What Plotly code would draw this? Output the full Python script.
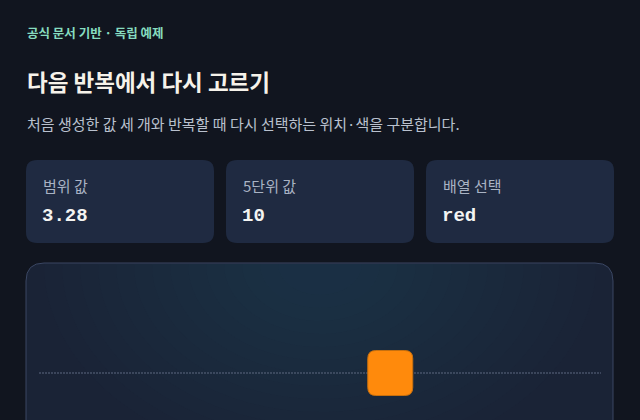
import plotly.graph_objects as go

# ---- data ----
eyebrow = "공식 문서 기반 · 독립 예제"
title = "다음 반복에서 다시 고르기"
subtitle = "처음 생성한 값 세 개와 반복할 때 다시 선택하는 위치·색을 구분합니다."
card_labels = ["범위 값", "5단위 값", "배열 선택"]
card_values = ["3.28", "10", "red"]
marker_x = [10]
marker_y = [0]
x_range = [0, 16]

W, H = 640, 420
BG = "#11151f"
CARD = "#1f2a41"
KR = "Noto Sans CJK KR, Noto Sans, sans-serif"
MONO = "Liberation Mono, DejaVu Sans Mono, monospace"


def px(x):
    return x / W


def py(y):
    return 1 - y / H


def rrect(x0, y0, x1, y1, r):
    rx, ry = r / W, r / H
    X0, X1 = px(x0), px(x1)
    Y0, Y1 = py(y0), py(y1)  # Y0 top (larger), Y1 bottom
    return (f"M {X0+rx},{Y0} L {X1-rx},{Y0} Q {X1},{Y0} {X1},{Y0-ry} "
            f"L {X1},{Y1+ry} Q {X1},{Y1} {X1-rx},{Y1} L {X0+rx},{Y1} "
            f"Q {X0},{Y1} {X0},{Y1+ry} L {X0},{Y0-ry} Q {X0},{Y0} {X0+rx},{Y0} Z")


def half_ellipse(cx, cy, rx, ry):
    k = 0.5523
    L, R, B = px(cx - rx), px(cx + rx), py(cy + ry)
    C, T = px(cx), py(cy)
    kx, ky = k * rx / W, k * ry / H
    return (f"M {L},{T} C {L},{T-ky} {C-kx},{B} {C},{B} "
            f"C {C+kx},{B} {R},{T-ky} {R},{T} Z")


shapes = []
annotations = []

# cards
card_x = [26, 226, 426]
for i, (lab, val) in enumerate(zip(card_labels, card_values)):
    x0 = card_x[i]
    shapes.append(dict(type="path", xref="paper", yref="paper", path=rrect(x0, 160, x0 + 188, 243, 11),
                       fillcolor=CARD, line=dict(width=0), layer="below"))
    annotations.append(dict(x=px(x0 + 15), y=py(185), xref="paper", yref="paper", text=lab,
                            showarrow=False, xanchor="left", yanchor="middle",
                            font=dict(family=KR, size=15, color="#a9b3c4")))
    annotations.append(dict(x=px(x0 + 14), y=py(216), xref="paper", yref="paper", text=f"<b>{val}</b>",
                            showarrow=False, xanchor="left", yanchor="middle",
                            font=dict(family=MONO, size=19, color="#f4f4f2")))

# panel
shapes.append(dict(type="path", xref="paper", yref="paper", path=rrect(26, 263, 613, 460, 18),
                   fillcolor="#1a2336", line=dict(color="#3a4662", width=1), layer="below"))
# soft radial glow from the top centre, kept inside the panel
for k in range(14):
    rx = 276 - k * 18
    ry = 200 - k * 13
    shapes.append(dict(type="path", xref="paper", yref="paper", path=half_ellipse(320, 264, rx, ry),
                       fillcolor="#2b3c63", opacity=0.045, line=dict(width=0), layer="below"))

# dotted guide line
shapes.append(dict(type="line", xref="x domain", yref="y", x0=0, x1=1, y0=0, y1=0,
                   line=dict(color="#5d6880", width=1, dash="2px,1px"), layer="below"))

# rounded square marker anchored at data position
for xv, yv in zip(marker_x, marker_y):
    s, r = 22.5, 8
    path = (f"M {-s+r},{-s} L {s-r},{-s} Q {s},{-s} {s},{-s+r} L {s},{s-r} Q {s},{s} {s-r},{s} "
            f"L {-s+r},{s} Q {-s},{s} {-s},{s-r} L {-s},{-s+r} Q {-s},{-s} {-s+r},{-s} Z")
    shapes.append(dict(type="path", xref="x", yref="y", xsizemode="pixel", ysizemode="pixel",
                       xanchor=xv, yanchor=yv, path=path, fillcolor="#ff8a0c",
                       line=dict(color="#c8700e", width=1), layer="above"))

# header texts
annotations.append(dict(x=px(25), y=py(33), xref="paper", yref="paper", text=eyebrow, showarrow=False,
                        xanchor="left", yanchor="middle",
                        font=dict(family=KR, size=12.5, color="#86dcbf", weight=600)))
annotations.append(dict(x=px(25), y=py(81), xref="paper", yref="paper", text=f"<b>{title}</b>", showarrow=False,
                        xanchor="left", yanchor="middle",
                        font=dict(family=KR, size=22.5, color="#f6f2ea")))
annotations.append(dict(x=px(25), y=py(123), xref="paper", yref="paper", text=subtitle, showarrow=False,
                        xanchor="left", yanchor="middle",
                        font=dict(family=KR, size=15, color="#b9c1ce")))

fig = go.Figure()
fig.add_trace(go.Scatter(x=marker_x, y=marker_y, mode="markers",
                         marker=dict(size=45, color="rgba(0,0,0,0)"), hoverinfo="skip", showlegend=False))

fig.update_layout(
    width=W, height=H, margin=dict(l=0, r=0, t=0, b=0),
    paper_bgcolor=BG, plot_bgcolor="rgba(0,0,0,0)",
    xaxis=dict(domain=[39 / W, 601 / W], range=x_range, visible=False, fixedrange=True),
    yaxis=dict(domain=[0, 2 * 47 / H], range=[-1, 1], visible=False, fixedrange=True),
    shapes=shapes, annotations=annotations, showlegend=False,
)

fig.write_html("out.html", config={"displayModeBar": False},
               post_script="document.body.style.margin='0';document.body.style.background='#11151f';document.body.style.overflow='hidden';")
